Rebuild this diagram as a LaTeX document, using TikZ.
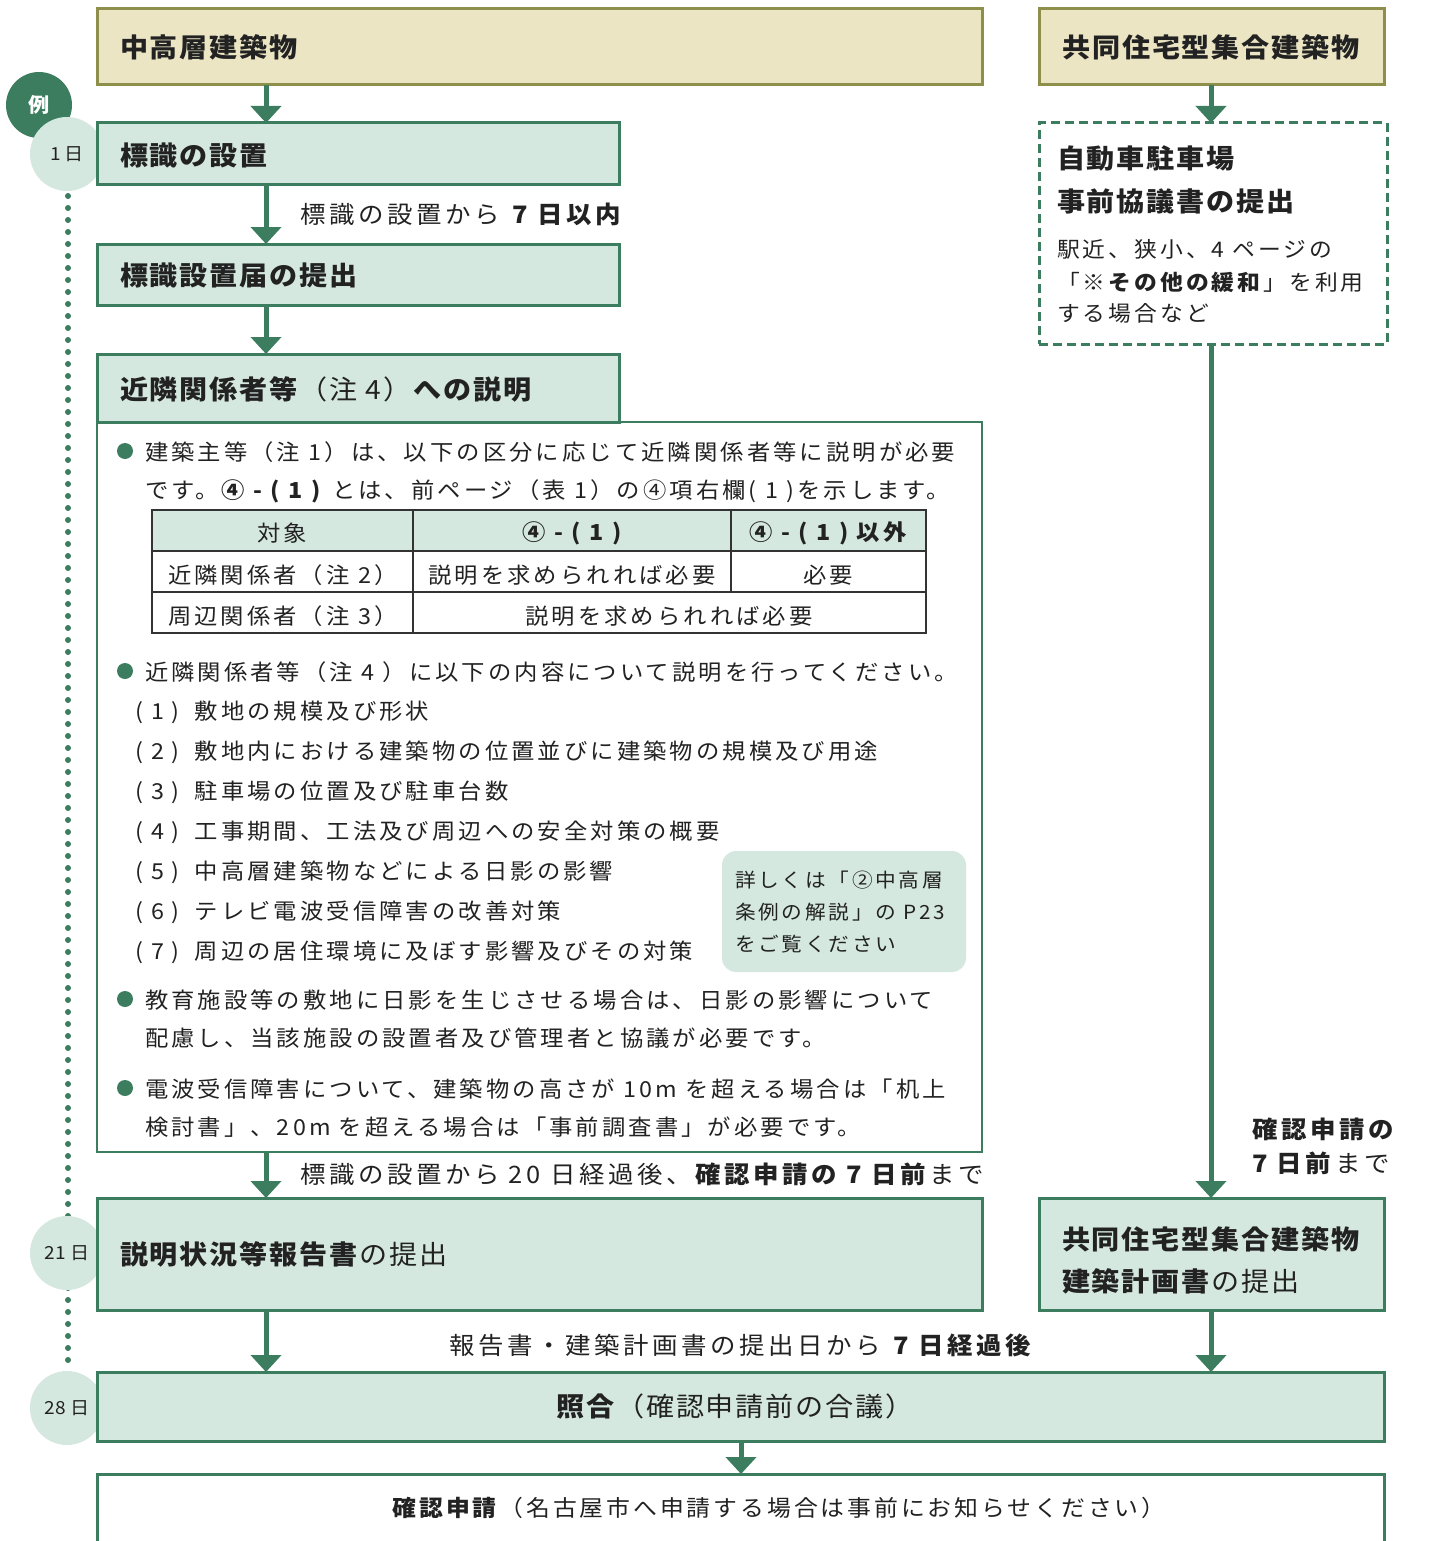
\documentclass[tikz,border=0pt]{standalone}
\usepackage{fontspec}
\setmainfont{Noto Sans CJK JP}[FakeStretch=1.06]
\usetikzlibrary{arrows.meta}
\definecolor{gr}{HTML}{3B7D5E}
\definecolor{lt}{HTML}{D5E8E0}
\definecolor{bg}{HTML}{EBE5C4}
\definecolor{ol}{HTML}{8F8F4C}
\definecolor{tx}{HTML}{222222}
\definecolor{tb}{HTML}{333333}
\newcommand\szHead{\addfontfeature{LetterSpace=7}\fontsize{26.5}{30}\selectfont}
\newcommand\szLab{\addfontfeature{LetterSpace=15}\fontsize{24}{28}\selectfont}
\newcommand\szLabS{\addfontfeature{LetterSpace=13}\fontsize{22.5}{26}\selectfont}
\newcommand\szBody{\addfontfeature{LetterSpace=14}\fontsize{22}{26}\selectfont}
\newcommand\szNote{\addfontfeature{LetterSpace=14}\fontsize{19.5}{24}\selectfont}
\newcommand\szDay{\fontsize{18}{20}\selectfont}
\newcommand\szRsm{\addfontfeature{LetterSpace=14}\fontsize{21.5}{26}\selectfont}
\newcommand\itm[1]{(\hspace{9pt}#1\hspace{7pt})\hspace{15pt}}
\begin{document}
\begin{tikzpicture}[x=1pt,y=-1pt,
  every node/.style={inner sep=0pt, outer sep=0pt, text=tx},
  hbox/.style={draw=gr, line width=3pt, fill=lt, rectangle, anchor=north west},
  arr/.style={draw=gr, line width=5pt, -{Triangle[width=30pt,length=17pt]}},
  txt/.style={anchor=west, font=\szBody},
  lab/.style={anchor=west, font=\szLab},
  day/.style={circle, fill=lt, minimum size=74pt, font=\szDay},
  bul/.style={circle, fill=gr, minimum size=16pt},
  tline/.style={draw=tb, line width=2pt}]
\useasboundingbox (0,0) rectangle (1438,1541);

% timeline
\draw[gr, line width=6pt, line cap=round, dash pattern=on 0pt off 12pt] (68,196) -- (68,1362);
\node[circle, fill=gr, minimum size=66pt, text=white, font=\fontsize{20}{22}\selectfont\bfseries] (rei) at (39,105) {例};
\node[day] (d1) at (67,154) {1 日};
\node[day] (d21) at (67,1253) {21 日};
\node[day] (d28) at (67,1408) {28 日};

% column coordinates
\coordinate (cL) at (266,0);
\coordinate (cR) at (1211,0);
\coordinate (cM) at (741,0);

% top boxes
\node[hbox, draw=ol, fill=bg, minimum width=885pt, minimum height=76pt] (A) at (97,9) {};
\node[anchor=west, font=\szHead\bfseries] (At) at (120,47) {中高層建築物};
\node[hbox, draw=ol, fill=bg, minimum width=345pt, minimum height=76pt] (B) at (1039,9) {};
\node[font=\szHead\bfseries] (Bt) at (1211,47) {共同住宅型集合建築物};

% left column boxes
\node[hbox, minimum width=522pt, minimum height=62pt] (s1) at (97,123) {};
\node[anchor=west, font=\szHead\bfseries] (s1t) at (120,155) {標識の設置};
\node[hbox, minimum width=522pt, minimum height=61pt] (s2) at (97,244) {};
\node[anchor=west, font=\szHead\bfseries] (s2t) at (120,275) {標識設置届の提出};

\node[draw=gr, line width=2pt, fill=white, anchor=north west, minimum width=885pt, minimum height=730pt] (body) at (97,422) {};
\node[hbox, minimum width=522pt, minimum height=68pt] (s3) at (97,354) {};
\node[anchor=west, font=\szHead] (s3t) at (120,389) {\textbf{近隣関係者等}（注 4）\textbf{への説明}};

% body contents
\node[bul] (b1) at (125,451) {};
\node[txt] (l1) at (145,452) {建築主等（注 1）は、以下の区分に応じて近隣関係者等に説明が必要};
\node[txt] (l2) at (145,491) {です。\textbf{④ - ( 1 )} とは、前ページ（表 1）の④項右欄( 1 )を示します。};

% table
\fill[lt] (152,510) rectangle (926,551);
\draw[tline] (152,510) rectangle (926,633);
\draw[tline] (152,551) -- (926,551);
\draw[tline] (152,592) -- (926,592);
\draw[tline] (413,510) -- (413,633);
\draw[tline] (731,510) -- (731,592);
\node[font=\szBody] (t11) at (282,533) {対象};
\node[font=\szBody\bfseries] (t12) at (572,533) {④ - ( 1 )};
\node[font=\szBody\bfseries] (t13) at (828,533) {④ - ( 1 ) 以外};
\node[txt] (t21) at (168,575) {近隣関係者（注 2）};
\node[font=\szBody] (t22) at (572,575) {説明を求められれば必要};
\node[font=\szBody] (t23) at (828,575) {必要};
\node[txt] (t31) at (168,616) {周辺関係者（注 3）};
\node[font=\szBody] (t32) at (669,616) {説明を求められれば必要};

\node[bul] (b2) at (125,671) {};
\node[txt] (l3) at (145,672) {近隣関係者等（注 4 ）に以下の内容について説明を行ってください。};
\node[txt] (i1) at (135,712) {\itm{1}敷地の規模及び形状};
\node[txt] (i2) at (135,752) {\itm{2}敷地内における建築物の位置並びに建築物の規模及び用途};
\node[txt] (i3) at (135,792) {\itm{3}駐車場の位置及び駐車台数};
\node[txt] (i4) at (135,832) {\itm{4}工事期間、工法及び周辺への安全対策の概要};
\node[txt] (i5) at (135,872) {\itm{5}中高層建築物などによる日影の影響};
\node[txt] (i6) at (135,912) {\itm{6}テレビ電波受信障害の改善対策};
\node[txt] (i7) at (135,952) {\itm{7}周辺の居住環境に及ぼす影響及びその対策};

\node[fill=lt, rounded corners=14pt, anchor=north west, minimum width=244pt, minimum height=121pt] (note) at (722,851) {};
\node[anchor=west, font=\szNote] (n1) at (735,880) {詳しくは「②中高層};
\node[anchor=west, font=\szNote] (n2) at (735,912) {条例の解説」の P23};
\node[anchor=west, font=\szNote] (n3) at (735,944) {をご覧ください};

\node[bul] (b3) at (125,999) {};
\node[txt] (l4) at (145,1000) {教育施設等の敷地に日影を生じさせる場合は、日影の影響について};
\node[txt] (l5) at (145,1038) {配慮し、当該施設の設置者及び管理者と協議が必要です。};
\node[bul] (b4) at (125,1088) {};
\node[txt] (l6) at (145,1089) {電波受信障害について、建築物の高さが 10m を超える場合は「机上};
\node[txt] (l7) at (145,1127) {検討書」、20m を超える場合は「事前調査書」が必要です。};

\node[hbox, minimum width=885pt, minimum height=112pt] (s4) at (97,1198) {};
\node[anchor=west, font=\szHead] (s4t) at (120,1254) {\textbf{説明状況等報告書}の提出};

% right column
\node[draw=gr, line width=3pt, dash pattern=on 9pt off 5pt, fill=white, anchor=north west, minimum width=348pt, minimum height=221pt] (r1) at (1039,123) {};
\node[anchor=west, font=\szHead\bfseries] (r1a) at (1057,158) {自動車駐車場};
\node[anchor=west, font=\szHead\bfseries] (r1b) at (1057,201) {事前協議書の提出};
\node[anchor=west, font=\szRsm] (r1c) at (1057,249) {駅近、狭小、4 ページの};
\node[anchor=west, font=\szRsm] (r1d) at (1057,282) {「※\textbf{その他の緩和}」を利用};
\node[anchor=west, font=\szRsm] (r1e) at (1057,313) {する場合など};

\node[hbox, minimum width=345pt, minimum height=112pt] (r2) at (1039,1198) {};
\node[anchor=west, font=\szHead\bfseries] (r2a) at (1062,1239) {共同住宅型集合建築物};
\node[anchor=west, font=\szHead] (r2b) at (1062,1281) {\textbf{建築計画書}の提出};

% bottom boxes
\node[hbox, minimum width=1287pt, minimum height=69pt] (s5) at (97,1372) {};
\node[font=\szHead] (s5t) at (735,1406) {\textbf{照合}（確認申請前の合議）};
\node[fill=white, anchor=north west, minimum width=1287pt, minimum height=70pt] (s6) at (97,1474) {};
\draw[gr, line width=3pt] (s6.south west) -- (s6.north west) -- (s6.north east) -- (s6.south east);
\node[font=\szLabS] (s6t) at (779,1508) {\textbf{確認申請}（名古屋市へ申請する場合は事前にお知らせください）};

% arrows
\draw[arr] (A.south -| cL) -- (s1.north -| cL);
\draw[arr] (s1.south -| cL) -- (s2.north -| cL);
\draw[arr] (s2.south -| cL) -- (s3.north -| cL);
\draw[arr] (body.south -| cL) -- (s4.north -| cL);
\draw[arr] (s4.south -| cL) -- (s5.north -| cL);
\draw[arr] (B.south -| cR) -- (r1.north -| cR);
\draw[arr] (r1.south -| cR) -- (r2.north -| cR);
\draw[arr] (r2.south -| cR) -- (s5.north -| cR);
\draw[arr] (s5.south -| cM) -- (s6.north -| cM);

% labels
\node[lab] (lab1) at (300,214) {標識の設置から \textbf{7 日以内}};
\node[lab] (lab2) at (300,1174) {標識の設置から 20 日経過後、\textbf{確認申請の 7 日前}まで};
\node[lab] (lab3) at (449,1345) {報告書・建築計画書の提出日から \textbf{7 日経過後}};
\node[lab] (lab4a) at (1252,1129) {\textbf{確認申請の}};
\node[lab] (lab4b) at (1252,1163) {\textbf{7 日前}まで};
\end{tikzpicture}
\end{document}
